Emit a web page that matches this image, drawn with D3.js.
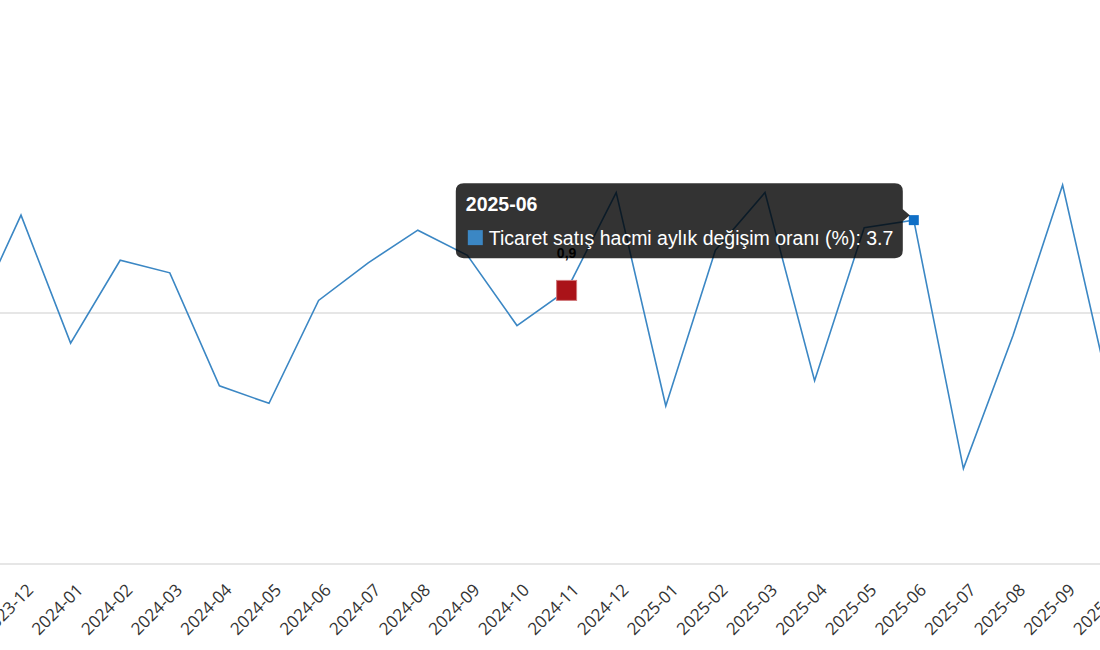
<!DOCTYPE html>
<html>
<head>
<meta charset="utf-8">
<script src="https://cdn.jsdelivr.net/npm/d3@7"></script>
<style>
	body { margin: 0; background: #fff; }
	svg { display: block; }
</style>
</head>
<body>
<div id="chart"></div>
<script>

const months = [
	'2023-11', '2023-12', '2024-01', '2024-02', '2024-03', '2024-04', '2024-05', '2024-06',
	'2024-07', '2024-08', '2024-09', '2024-10', '2024-11', '2024-12', '2025-01', '2025-02',
	'2025-03', '2025-04', '2025-05', '2025-06', '2025-07', '2025-08', '2025-09', '2025-10'
];
const values = [
	-0.4, 3.9, -1.2, 2.1, 1.6, -2.9, -3.6, 0.5,
	2.0, 3.3, 2.3, -0.5, 0.9, 4.8, -3.7, 2.5,
	4.8, -2.7, 3.4, 3.7, -6.2, -0.9, 5.1, -3.6
];
const gridValues = [-10, 0];
const labelledMonths = ['2024-11', '2025-10'];
const highlightMonth = '2024-11';
const hoverMonth = '2025-06';
const seriesName = 'Ticaret satış hacmi aylık değişim oranı (%)';

const width = 1100;
const height = 650;

const data = months.map((m, i) => ({month: m, value: values[i]}));

const svg = d3.select('#chart').append('svg')
	.attr('width', width)
	.attr('height', height);

const x = d3.scalePoint()
	.domain(months)
	.range([-28.6, 1112.2]);

const y = d3.scaleLinear()
	.domain([-10, 10])
	.range([564, 62]);

// grid lines (zero + bottom)
svg.append('g')
	.selectAll('line')
	.data(gridValues)
	.enter()
	.append('line')
	.attr('x1', 0)
	.attr('x2', width)
	.attr('y1', d => y(d))
	.attr('y2', d => y(d))
	.style('stroke', '#e6e6e6')
	.style('stroke-width', 2);

// x axis labels
const xAxis = svg.append('g')
	.attr('transform', `translate(0, ${y(-10)})`)
	.call(d3.axisBottom(x).tickSize(0).tickPadding(0));

xAxis.select('.domain').remove();

xAxis.selectAll('text')
	.attr('text-anchor', 'end')
	.attr('dy', 0)
	.attr('font-size', null)
	.attr('transform', 'translate(13, 27) rotate(-45)')
	.style('font-family', '"Open Sans", sans-serif')
	.style('font-size', '17px')
	.style('fill', '#333');

// the line
const line = d3.line()
	.x(d => x(d.month))
	.y(d => y(d.value));

svg.append('path')
	.datum(data)
	.attr('d', line)
	.style('fill', 'none')
	.style('stroke', '#3b87c4')
	.style('stroke-width', 1.6)
	.style('stroke-linejoin', 'miter');

// highlighted point
const hl = data.find(d => d.month === highlightMonth);
svg.append('rect')
	.attr('x', x(hl.month) - 10)
	.attr('y', y(hl.value) - 10)
	.attr('width', 20)
	.attr('height', 20)
	.style('fill', '#aa1319')
	.style('stroke', '#d0787b')
	.style('stroke-width', 1);

// hover marker
const hv = data.find(d => d.month === hoverMonth);
svg.append('rect')
	.attr('x', x(hv.month) - 5)
	.attr('y', y(hv.value) - 5)
	.attr('width', 10)
	.attr('height', 10)
	.style('fill', '#0f6fc6');

// tooltip
const tipW = 447;
const tipH = 75;
const tipX = x(hv.month) - 11 - tipW;
const tipY = y(hv.value) - 37;
const tip = svg.append('g')
	.attr('transform', `translate(${tipX}, ${tipY})`);

const r = 8;
const ay = 32;
tip.append('path')
	.attr('d', `M${r},0 H${tipW - r} Q${tipW},0 ${tipW},${r} V${ay - 6} L${tipW + 7},${ay} L${tipW},${ay + 6} V${tipH - r} Q${tipW},${tipH} ${tipW - r},${tipH} H${r} Q0,${tipH} 0,${tipH - r} V${r} Q0,0 ${r},0 Z`)
	.style('fill', 'rgba(0,0,0,0.8)');

tip.append('text')
	.attr('x', 10)
	.attr('y', 28)
	.text(hv.month)
	.style('font-family', '"Liberation Sans", Arial, sans-serif')
	.style('font-weight', 'bold')
	.style('font-size', '19.5px')
	.style('fill', '#fff');

tip.append('rect')
	.attr('x', 12)
	.attr('y', 47)
	.attr('width', 15)
	.attr('height', 15)
	.style('fill', '#3b87c4');

tip.append('text')
	.attr('x', 33)
	.attr('y', 62)
	.text(`${seriesName}: ${hv.value}`)
	.style('font-family', '"Liberation Sans", Arial, sans-serif')
	.style('font-size', '19.5px')
	.style('fill', '#fff');

// data labels
const fmt = v => d3.format('.1f')(v).replace('.', ',').replace('−', '-');
svg.append('g')
	.selectAll('text')
	.data(data.filter(d => labelledMonths.includes(d.month)))
	.enter()
	.append('text')
	.attr('x', d => x(d.month))
	.attr('y', d => y(d.value) - 32)
	.attr('text-anchor', 'middle')
	.text(d => fmt(d.value))
	.style('font-family', '"Liberation Sans", Arial, sans-serif')
	.style('font-weight', 'bold')
	.style('font-size', '14px')
	.style('fill', '#000');

</script>
</body>
</html>
